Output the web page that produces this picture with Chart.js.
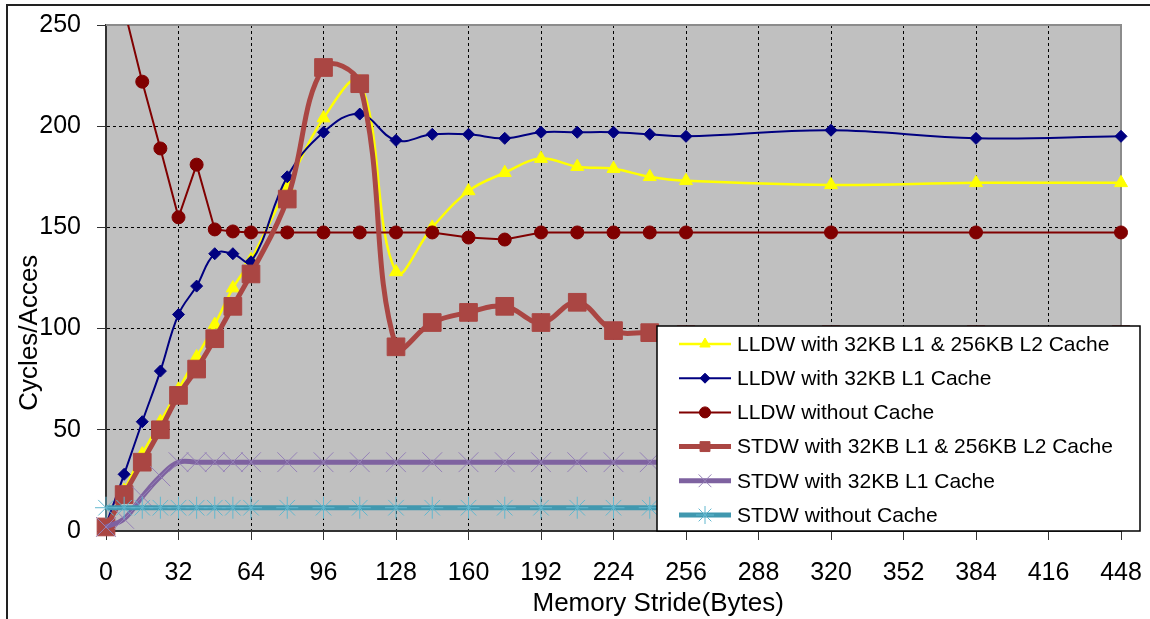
<!DOCTYPE html>
<html>
<head>
<meta charset="utf-8">
<script src="https://cdn.jsdelivr.net/npm/chart.js@4.4.1/dist/chart.umd.min.js"></script>
<style>
  html, body { margin: 0; padding: 0; background: #fff; }
  #wrap { width: 1150px; height: 619px; }
</style>
</head>
<body>
<div id="wrap"><canvas id="strideChart" width="1150" height="619"></canvas></div>
<script>
// memory stride in bytes (x values)
const strides = [0, 8, 16, 24, 32, 40, 48, 56, 64, 80, 96, 112, 128, 144, 160, 176, 192, 208, 224, 240, 256, 320, 384, 448];

const seriesNames = [
  'LLDW with 32KB L1 & 256KB L2 Cache',
  'LLDW with 32KB L1 Cache',
  'LLDW without Cache',
  'STDW with 32KB L1 & 256KB L2 Cache',
  'STDW with 32KB L1 Cache',
  'STDW without Cache'
];

// cycles per access
const lldwL1L2 = [2, 20, 38, 54, 70, 86, 102, 120, 134, 170, 204, 222, 128, 150, 168, 177, 184, 180, 179, 175, 173, 171, 172, 172];
const lldwL1 = [3, 28, 54, 79, 107, 121, 137, 137, 133, 175, 197, 206, 193, 196, 196, 194, 197, 197, 197, 196, 195, 198, 194, 195];
const lldwNoCache = [310, 258, 222, 189, 155, 181, 149, 148, 147.5, 147.5, 147.5, 147.5, 147.5, 147.5, 145, 144, 147.5, 147.5, 147.5, 147.5, 147.5, 147.5, 147.5, 147.5];
const stdwL1L2 = [2, 18, 34, 50, 67, 80, 95, 111, 127, 164, 229, 221, 91, 103, 108, 111, 103, 113, 99, 98, 97, 97, 97, 97];
const stdwL1 = [2, 6, 17, 27, 34, 34, 34, 34, 34, 34, 34, 34, 34, 34, 34, 34, 34, 34, 34, 34, 34, 34, 34, 34];
const stdwNoCache = [11.5, 11.5, 11.5, 11.5, 11.5, 11.5, 11.5, 11.5, 11.5, 11.5, 11.5, 11.5, 11.5, 11.5, 11.5, 11.5, 11.5, 11.5, 11.5, 11.5, 11.5, 11.5, 11.5, 11.5];

const xTitle = 'Memory Stride(Bytes)';
const yTitle = 'Cycles/Acces';

const toPoints = (vals) => strides.map((s, i) => ({ x: s, y: vals[i] }));
const noClip = { left: false, right: false, top: false, bottom: false };

const datasets = [
  {
    label: seriesNames[0], data: toPoints(lldwL1L2), order: 6,
    borderColor: '#ffff00', backgroundColor: '#ffff00', borderWidth: 2.5, tension: 0.4,
    pointStyle: 'triangle', pointRadius: 7.5, pointBorderWidth: 1,
    pointBackgroundColor: '#ffff00', pointBorderColor: '#ffff00', clip: noClip,
    legendRadius: 6
  },
  {
    label: seriesNames[1], data: toPoints(lldwL1), order: 5,
    borderColor: '#000080', backgroundColor: '#000080', borderWidth: 2, tension: 0.4,
    pointStyle: 'rectRot', pointRadius: 6, pointBorderWidth: 1,
    pointBackgroundColor: '#000080', pointBorderColor: '#000080', clip: noClip,
    legendRadius: 5
  },
  {
    label: seriesNames[2], data: toPoints(lldwNoCache), order: 4,
    borderColor: '#800000', backgroundColor: '#800000', borderWidth: 2, tension: 0,
    pointStyle: 'circle', pointRadius: 6.5, pointBorderWidth: 1,
    pointBackgroundColor: '#800000', pointBorderColor: '#800000',
    clip: { left: false, right: false, top: 0, bottom: false },
    legendRadius: 5.5
  },
  {
    label: seriesNames[3], data: toPoints(stdwL1L2), order: 3,
    borderColor: '#aa4643', backgroundColor: '#aa4643', borderWidth: 5, tension: 0.4,
    pointStyle: 'rect', pointRadius: 12.5, pointBorderWidth: 1,
    pointBackgroundColor: '#aa4643', pointBorderColor: '#aa4643', clip: noClip,
    legendRadius: 7
  },
  {
    label: seriesNames[4], data: toPoints(stdwL1), order: 2,
    borderColor: '#7e62a0', backgroundColor: '#7e62a0', borderWidth: 5, tension: 0.4,
    pointStyle: 'crossRot', pointRadius: 14, pointBorderWidth: 1,
    pointBackgroundColor: '#9682b8', pointBorderColor: '#9682b8', clip: noClip,
    legendRadius: 9
  },
  {
    label: seriesNames[5], data: toPoints(stdwNoCache), order: 1,
    borderColor: '#4198af', backgroundColor: '#4198af', borderWidth: 5, tension: 0.4,
    pointStyle: 'star', pointRadius: 11, pointBorderWidth: 1,
    pointBackgroundColor: '#62b8cf', pointBorderColor: '#62b8cf', clip: noClip,
    legendRadius: 9
  }
];

// white page, grey plot area, outer frame lines
const framePlugin = {
  id: 'frame',
  beforeDraw(chart) {
    const { ctx, chartArea: a } = chart;
    ctx.save();
    ctx.fillStyle = '#fff';
    ctx.fillRect(0, 0, chart.width, chart.height);
    ctx.fillStyle = '#c0c0c0';
    ctx.fillRect(a.left, a.top, a.right - a.left, a.bottom - a.top);
    ctx.strokeStyle = '#222';
    ctx.lineWidth = 2;
    ctx.beginPath();
    ctx.moveTo(7, chart.height);
    ctx.lineTo(7, 5);
    ctx.lineTo(chart.width, 5);
    ctx.stroke();
    ctx.restore();
  },
  beforeDatasetsDraw(chart) {
    const { ctx, chartArea: a } = chart;
    ctx.save();
    ctx.strokeStyle = '#8c8c8c';
    ctx.lineWidth = 2;
    ctx.beginPath();
    ctx.moveTo(a.left, a.top);
    ctx.lineTo(a.right, a.top);
    ctx.lineTo(a.right, a.bottom);
    ctx.stroke();
    ctx.restore();
  }
};

const drawMarker = (ctx, style, r, x, y) => {
  if (Chart.helpers && Chart.helpers.drawPoint) {
    Chart.helpers.drawPoint(ctx, { pointStyle: style, radius: r, rotation: 0, borderWidth: 1 }, x, y);
  }
};

// axis titles and the boxed legend sitting over the plot
const overlayPlugin = {
  id: 'overlay',
  afterDraw(chart) {
    const { ctx, chartArea: a } = chart;
    ctx.save();
    ctx.fillStyle = '#000';
    ctx.font = '26px "Liberation Sans", Arial, sans-serif';
    ctx.textAlign = 'center';
    ctx.textBaseline = 'middle';
    ctx.fillText(xTitle, a.left + (a.right - a.left) * 0.544, a.bottom + 73);
    ctx.translate(30, a.top + (a.bottom - a.top) * 0.608);
    ctx.rotate(-Math.PI / 2);
    ctx.fillText(yTitle, 0, 0);
    ctx.restore();

    // legend box
    const boxRight = a.right + 19;
    const boxLeft = a.right - 464;
    const boxTop = a.bottom - 205;
    const boxBottom = a.bottom;
    ctx.save();
    ctx.fillStyle = '#fff';
    ctx.fillRect(boxLeft, boxTop, boxRight - boxLeft, boxBottom - boxTop);
    ctx.strokeStyle = '#000';
    ctx.lineWidth = 1.5;
    ctx.strokeRect(boxLeft, boxTop, boxRight - boxLeft, boxBottom - boxTop);
    ctx.font = '21px "Liberation Sans", Arial, sans-serif';
    ctx.textAlign = 'left';
    ctx.textBaseline = 'middle';
    chart.data.datasets.forEach((ds, i) => {
      const y = boxTop + 18 + i * 34.2;
      const x0 = boxLeft + 22;
      const x1 = boxLeft + 74;
      ctx.strokeStyle = ds.borderColor;
      ctx.lineWidth = ds.borderWidth;
      ctx.beginPath();
      ctx.moveTo(x0, y);
      ctx.lineTo(x1, y);
      ctx.stroke();
      ctx.fillStyle = ds.pointBackgroundColor;
      ctx.strokeStyle = ds.pointBorderColor;
      ctx.lineWidth = 1;
      drawMarker(ctx, ds.pointStyle, ds.legendRadius, (x0 + x1) / 2, y);
      ctx.fillStyle = '#000';
      ctx.fillText(ds.label, boxLeft + 80, y + 1);
    });
    ctx.restore();
  }
};

const tickFont = { family: '"Liberation Sans", Arial, sans-serif', size: 25 };

const clearPadding = (scale) => {
  scale.paddingLeft = 0;
  scale.paddingRight = 0;
  scale.paddingTop = 0;
  scale.paddingBottom = 0;
};

new Chart(document.getElementById('strideChart'), {
  type: 'line',
  data: { datasets },
  options: {
    responsive: false,
    animation: false,
    layout: { padding: { left: 10, top: 25, right: 29, bottom: 0 } },
    plugins: {
      legend: { display: false },
      tooltip: { enabled: false }
    },
    scales: {
      x: {
        type: 'linear',
        min: 0,
        max: 448,
        afterFit: (scale) => { scale.height = 88; clearPadding(scale); },
        ticks: { stepSize: 32, color: '#000', font: tickFont, padding: 18, maxRotation: 0 },
        grid: { color: '#000', lineWidth: 1, tickLength: 9, tickColor: '#333' },
        border: { display: true, color: '#333', width: 2, dash: [3, 3] }
      },
      y: {
        min: 0,
        max: 250,
        afterFit: (scale) => { scale.width = 96; clearPadding(scale); },
        ticks: { stepSize: 50, color: '#000', font: tickFont, padding: 16 },
        grid: { color: '#000', lineWidth: 1, tickLength: 9, tickColor: '#333' },
        border: { display: true, color: '#333', width: 2, dash: [3, 3] }
      }
    }
  },
  plugins: [framePlugin, overlayPlugin]
});
</script>
</body>
</html>
